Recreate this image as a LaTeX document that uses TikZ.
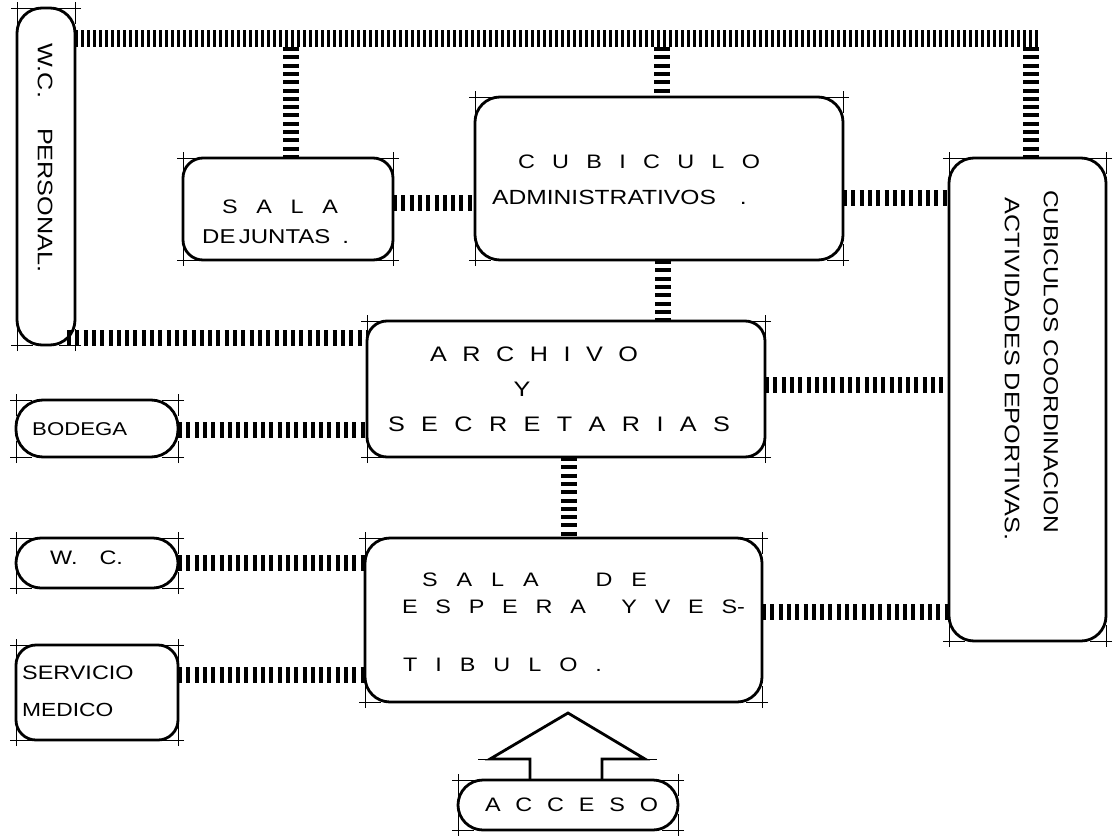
\documentclass[tikz,border=0pt]{standalone}
\usepackage{fontspec}
\setmainfont[FakeStretch=1.2]{Liberation Sans}
\usetikzlibrary{calc}
\tikzset{
  box/.style={draw, line width=2.8pt, rounded corners=#1, inner sep=0pt, outer sep=0pt},
  box/.default=25pt,
  hatch/.style={line width=16pt, dash pattern=on 4pt off 4.3pt},
  tophatch/.style={line width=17pt, dash pattern=on 3pt off 3pt},
  tick/.style={line width=0.6pt},
  lbl/.style={inner sep=0pt, font=\fontsize{19.5}{20}\selectfont},
}
\newcommand\fs[1]{\fontsize{#1}{#1}\selectfont}
\newcommand\cornerticks[1]{%
  \foreach \a/\sx/\sy in {north west/1/-1, north east/-1/-1, south west/1/1, south east/-1/1}{%
    \draw[tick] ([xshift=-6*\sx]#1.\a) -- ([xshift=16*\sx]#1.\a);
    \draw[tick] ([yshift=-6*\sy]#1.\a) -- ([yshift=16*\sy]#1.\a);
  }}
\begin{document}
\begin{tikzpicture}[x=1pt,y=1pt]
\useasboundingbox (0,0) rectangle (1113,-835);
% boxes
\node[box, minimum width=58pt, minimum height=337pt] (wcp) at (46,-176.5) {};
\node[box=20pt, minimum width=210pt, minimum height=102pt] (sdj) at (288,-209) {};
\node[box, minimum width=368pt, minimum height=163pt] (cub) at (659,-178.5) {};
\node[box, minimum width=157pt, minimum height=483pt] (coord) at (1027.5,-399.5) {};
\node[box=20pt, minimum width=398pt, minimum height=136pt] (arch) at (566,-389) {};
\node[box=27pt, minimum width=162pt, minimum height=57pt] (bod) at (97,-428.5) {};
\node[box, minimum width=162pt, minimum height=50pt] (wc) at (97,-563) {};
\node[box=20pt, minimum width=162pt, minimum height=95pt] (serv) at (97,-692.5) {};
\node[box, minimum width=397pt, minimum height=164pt] (sala) at (563.5,-620) {};
\node[box, minimum width=220pt, minimum height=50pt] (acc) at (568,-805) {};
\foreach \n in {wcp,sdj,cub,coord,arch,bod,wc,serv,sala,acc}{\cornerticks{\n}}
% connectors
\coordinate (tb) at (1040,-38);
\draw[tophatch] (wcp.east |- tb) -- (tb);
\coordinate (t1) at (291,-47);
\coordinate (t2) at (662,-47);
\coordinate (t3) at (1031,-47);
\draw[hatch] (t1) -- (t1 |- sdj.north);
\draw[hatch] (t2) -- (t2 |- cub.north);
\draw[hatch] (t3) -- (t3 |- coord.north);
\coordinate (r1) at (0,-203);
\coordinate (r2) at (0,-198);
\coordinate (r3) at (0,-338);
\coordinate (r4) at (0,-430);
\coordinate (r5) at (0,-385);
\coordinate (r6) at (0,-563);
\coordinate (r7) at (0,-675);
\coordinate (r8) at (0,-612);
\coordinate (c1) at (663,0);
\coordinate (c2) at (569,0);
\draw[hatch] (sdj.east |- r1) -- (cub.west |- r1);
\draw[hatch] (cub.east |- r2) -- (coord.west |- r2);
\draw[hatch] ([xshift=-8pt]wcp.east |- r3) -- (arch.west |- r3);
\draw[hatch] (bod.east |- r4) -- (arch.west |- r4);
\draw[hatch] (arch.east |- r5) -- (coord.west |- r5);
\draw[hatch] (wc.east |- r6) -- (sala.west |- r6);
\draw[hatch] (serv.east |- r7) -- (sala.west |- r7);
\draw[hatch] (sala.east |- r8) -- (coord.west |- r8);
\draw[hatch] (c1 |- cub.south) -- (c1 |- arch.north);
\draw[hatch] (c2 |- arch.south) -- (c2 |- sala.north);
% access arrow
\draw[line width=2.8pt, line join=miter] (acc.north) ++(-38,0) -- ++(0,21) -- ++(-40,0) -- ++(78,46) -- ++(77,-46) -- ++(-43,0) -- ++(0,-21);
\draw[tick] (acc.north) ++(-90,21) -- ++(14,0);
\draw[tick] (acc.north) ++(75,21) -- ++(14,0);
% texts
\node[lbl, font=\fs{21}, rotate=-90] (twcp) at (45,-158) {W.C.\hspace{30pt}PERSONAL.};
\node[lbl] (tcub1) at (639,-162) {\makebox[242pt][s]{C\hfil U\hfil B\hfil I\hfil C\hfil U\hfil L\hfil O}};
\node[lbl, font=\fs{20.5}, anchor=west] (tcub2) at (492,-197) {ADMINISTRATIVOS\hspace{24pt}.};
\node[lbl] (tsdj1) at (280,-207) {\makebox[116pt][s]{S\hfil A\hfil L\hfil A}};
\node[lbl, font=\fs{20}, anchor=west] (tsdj2) at (202,-237) {DE\,JUNTAS\hspace{12pt}.};
\node[lbl, font=\fs{20.4}, rotate=-90] (tco1) at (1051,-361.5) {CUBICULOS COORDINACION};
\node[lbl, font=\fs{21}, rotate=-90] (tco2) at (1012,-369) {ACTIVIDADES DEPORTIVAS.};
\node[lbl, font=\fs{21}] (ta1) at (534,-354) {\makebox[208pt][s]{A\hfil R\hfil C\hfil H\hfil I\hfil V\hfil O}};
\node[lbl, font=\fs{21}] (ta2) at (522,-389) {Y};
\node[lbl, font=\fs{21}] (ta3) at (559,-424) {\makebox[342pt][s]{S\hfil E\hfil C\hfil R\hfil E\hfil T\hfil A\hfil R\hfil I\hfil A\hfil S}};
\node[lbl, font=\fs{18.5}, anchor=west] (tbod) at (32,-429) {BODEGA};
\node[lbl, anchor=west] (twc) at (50,-558) {W.\hspace{22pt}C.};
\node[lbl, font=\fs{19.5}, anchor=west] (tserv1) at (22,-673) {SERVICIO};
\node[lbl, font=\fs{19}, anchor=west] (tserv2) at (22,-710) {MEDICO};
\node[lbl] (ts1) at (534.5,-580) {\makebox[225pt][s]{S\hfil A\hfil L\hfil A\hfil\hfil\hfil D\hfil E}};
\node[lbl] (ts2) at (573.5,-607) {\makebox[343pt][s]{E\hfil S\hfil P\hfil E\hfil R\hfil A\hfil\hfil Y\hfil V\hfil E\hfil S-}};
\node[lbl] (ts3) at (502.5,-665) {\makebox[199pt][s]{T\hfil I\hfil B\hfil U\hfil L\hfil O\hfil .}};
\node[lbl] (tacc) at (571.5,-805) {\makebox[173pt][s]{A\hfil C\hfil C\hfil E\hfil S\hfil O}};
\end{tikzpicture}
\end{document}
